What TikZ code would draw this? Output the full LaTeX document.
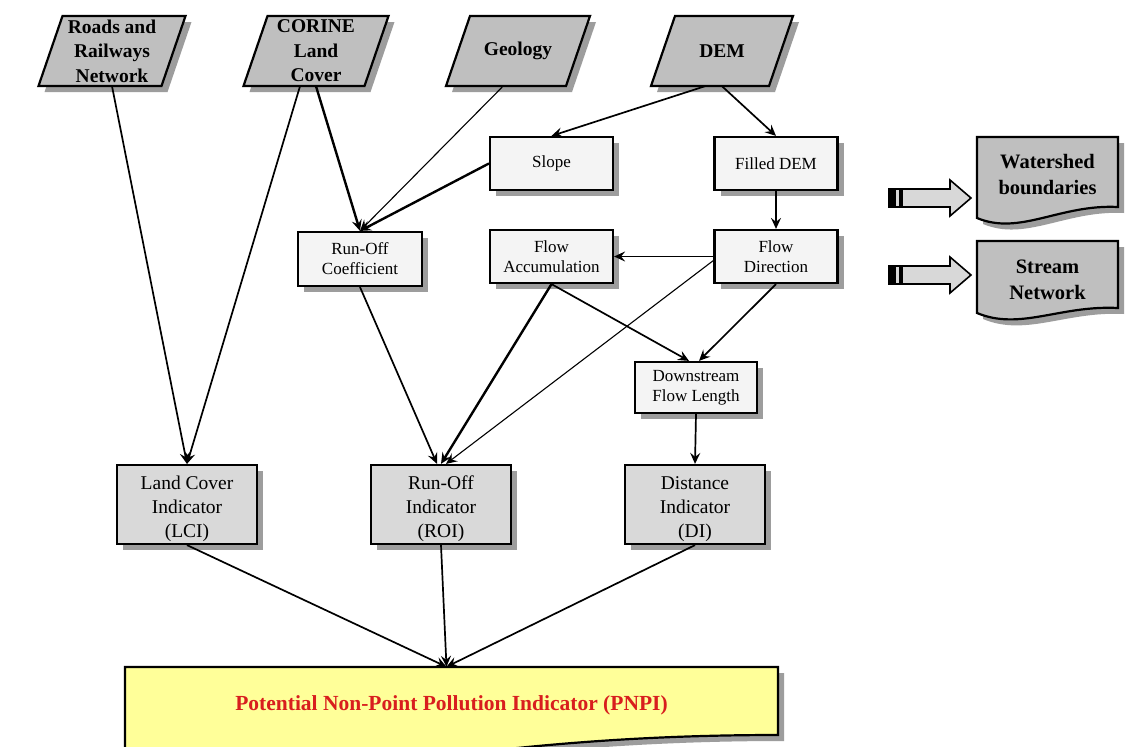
\documentclass[tikz,border=0pt]{standalone}
\usepackage{fontspec}
\setmainfont{Liberation Serif}
\usetikzlibrary{shadows,arrows.meta,calc}
\definecolor{paraG}{HTML}{BFBFBF}
\definecolor{boxW}{HTML}{F4F4F4}
\definecolor{indG}{HTML}{D9D9D9}
\definecolor{pnpiY}{HTML}{FFFF99}
\definecolor{pnpiR}{HTML}{D81E1E}
\definecolor{shadowG}{HTML}{8C8C8C}
\definecolor{arrG}{HTML}{D8D8D8}
\newcommand\paranode[5]{%
  \path[parafill] (#2-#4/2-12,#3+35) -- (#2+#4/2-12,#3+35) -- (#2+#4/2+12,#3-35) -- (#2-#4/2+12,#3-35) -- cycle;
  \node[paratext=#4pt] (#1) at (#2,#3) {#5};}
\newcommand\upstrut{\rule{0pt}{22pt}}
\begin{document}
\begin{tikzpicture}[x=1pt,y=-1pt,
  dshadow/.style={drop shadow={shadow xshift=6pt,shadow yshift=-6pt,fill=shadowG,opacity=0.85}},
  parafill/.style={dshadow, fill=paraG, draw=black, line width=2.2pt},
  paratext/.style={minimum width=#1, minimum height=70pt, inner sep=0pt, align=center,
     font=\fontsize{19.5}{24.5}\selectfont\bfseries},
  smallbox/.style={dshadow, draw=black, fill=boxW, line width=2.2pt, minimum width=123pt,
     minimum height=53pt, inner sep=0pt, align=center, font=\fontsize{17}{20}\selectfont},
  indbox/.style={dshadow, draw=black, fill=indG, line width=2.2pt, minimum width=140pt,
     minimum height=79pt, inner sep=0pt, align=center, font=\fontsize{19.5}{24}\selectfont},
  docfill/.style={dshadow, fill=paraG, draw=black, line width=2.2pt},
  doctext/.style={inner sep=0pt, align=center, font=\fontsize{20.5}{26}\selectfont\bfseries},
  conn/.style={-{Stealth[length=11pt,width=10pt,inset=4pt]}, line width=1.7pt},
  thickconn/.style={conn, line width=2.4pt},
  thinconn/.style={conn, line width=1.1pt},
  blockarr/.style={draw=black, fill=arrG, line width=1.6pt, line join=miter}
]
\useasboundingbox (0,0) rectangle (1133,747);
\fill[white] (0,0) rectangle (1133,747);
\begin{scope}
\clip (0,0) rectangle (1133,747);

% input parallelograms
\paranode{roads}{112}{51}{123}{Roads and\\Railways\\Network}
\paranode{corine}{316}{51}{121}{CORINE\\Land\\Cover}
\paranode{geology}{518}{51}{120}{Geology}
\paranode{dem}{722}{51}{118}{DEM}

% processing boxes
\node[smallbox] (slope) at (551.5,163.5) {Slope};
\node[smallbox] (filled) at (776,163.5) {Filled DEM};
\node[smallbox, minimum width=124pt, minimum height=54pt] (roc) at (360,259) {Run-Off\\Coefficient};
\node[smallbox] (flowacc) at (551.5,256.5) {Flow\\Accumulation};
\node[smallbox] (flowdir) at (776,256.5) {Flow\\Direction};
\node[smallbox, minimum width=122pt, minimum height=51pt] (down) at (696,387.5) {Downstream\\Flow Length};

% indicators
\node[indbox] (lci) at (187,504.5) {\upstrut Land Cover\\Indicator\\(LCI)};
\node[indbox] (roi) at (441,504.5) {\upstrut Run-Off\\Indicator\\(ROI)};
\node[indbox] (di) at (695,504.5) {\upstrut Distance\\Indicator\\(DI)};

% PNPI document box
\path[docfill, fill=pnpiY] (125,667) -- (778,667) -- (778,735)
   .. controls (620,735) and (500,748) .. (380,765)
   .. controls (300,776) and (200,772) .. (125,764) -- cycle;
\node[minimum width=653pt, minimum height=76pt, inner sep=0pt, text=pnpiR,
   font=\fontsize{21.5}{24}\selectfont\bfseries] (pnpi) at (451.5,705)
   {Potential Non-Point Pollution Indicator (PNPI)};

% output documents
\path[docfill] (977,137) -- (1118,137) -- (1118,207)
   .. controls (1060,204) and (1020,236) .. (977,218) -- cycle;
\node[doctext] (ws) at (1047.5,175) {Watershed\\boundaries};
\path[docfill] (977,241) -- (1118,241) -- (1118,308)
   .. controls (1060,305) and (1020,331) .. (977,313) -- cycle;
\node[doctext] (sn) at (1047.5,279.5) {Stream\\Network};

% block arrows
\path[blockarr] (889,189) -- (950,189) -- (950,180) -- (971,198) -- (950,216) -- (950,207) -- (889,207) -- cycle;
\fill[black] (889,189) rectangle (896,207);
\fill[black] (899,189) rectangle (903,207);
\path[blockarr] (889,266) -- (950,266) -- (950,257) -- (971,275) -- (950,293) -- (950,284) -- (889,284) -- cycle;
\fill[black] (889,266) rectangle (896,284);
\fill[black] (899,266) rectangle (903,284);

% connectors
\draw[conn] (roads.south) -- (lci.north);
\draw[conn] ($(corine.south)+(-16,0)$) -- (lci.north);
\draw[thickconn] (corine.south) -- (roc.north);
\draw[thinconn] ($(geology.south)+(-15,0)$) -- (roc.north);
\draw[thickconn] (slope.west) -- (roc.north);
\draw[conn] ($(dem.south)+(-17,0)$) -- (slope.north);
\draw[conn] (dem.south) -- (filled.north);
\draw[conn] (filled.south) -- (flowdir.north);
\draw[conn] (flowdir.west) -- (flowacc.east);
\draw[conn] (flowacc.south) -- ($(down.north)+(-7,0)$);
\draw[conn] (flowdir.south) -- ($(down.north)+(3,0)$);
\draw[thickconn] (flowacc.south) -- (roi.north);
\draw[thinconn] ($(flowdir.west)+(0,4)$) -- ($(roi.north)+(5,0)$);
\draw[conn] (roc.south) -- ($(roi.north)+(-4,0)$);
\draw[conn] (down.south) -- (di.north);
\draw[conn] (lci.south) -- ($(pnpi.north)+(-5,0)$);
\draw[conn] (roi.south) -- ($(pnpi.north)+(-5,0)$);
\draw[conn] (di.south) -- ($(pnpi.north)+(-5,0)$);
\end{scope}
\end{tikzpicture}
\end{document}
